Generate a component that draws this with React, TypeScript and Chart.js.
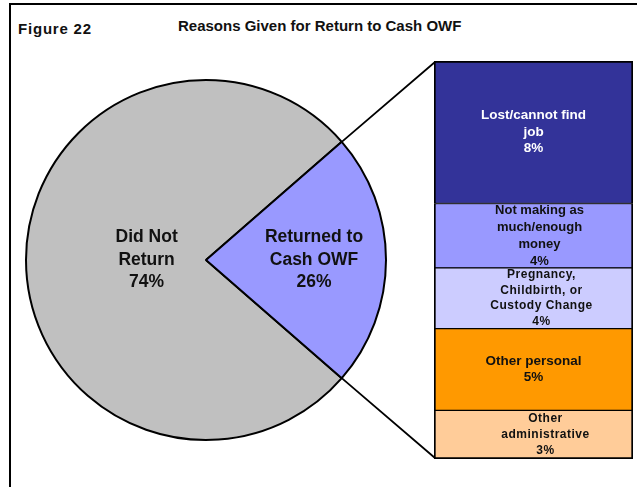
import React, { useEffect, useRef } from "react";
import { Chart, registerables } from "chart.js";

Chart.register(...registerables);

// ---- Data ----
const pieCategories = ["Did Not Return", "Returned to Cash OWF"];
const pieValues = [77.2, 22.8];
const pieLabelLines = [
  ["Did Not", "Return", "74%"],
  ["Returned to", "Cash OWF", "26%"],
];

const barCategories = [
  "Lost/cannot find job",
  "Not making as much/enough money",
  "Pregnancy, Childbirth, or Custody Change",
  "Other personal",
  "Other administrative",
];
const barValues = [8.2, 3.7, 3.5, 4.7, 2.8];
const barLabelLines = [
  ["Lost/cannot find", "job", "8%"],
  ["Not making as", "much/enough", "money", "4%"],
  ["Pregnancy,", "Childbirth, or", "Custody Change", "4%"],
  ["Other personal", "5%"],
  ["Other", "administrative", "3%"],
];

// ---- Styles ----
const FONT = "'Liberation Sans', Arial, Helvetica, sans-serif";
const pieColors = ["#C0C0C0", "#9999FF"];
const pieLabelRadius = [0.33, 0.6];
const barColors = ["#333399", "#9999FF", "#CCCCFF", "#FF9900", "#FFCC99"];
const barTextColors = ["#FFFFFF", "#111111", "#111111", "#111111", "#111111"];
const barFontSize = [13.5, 13, 12, 13.5, 12];
const barLineHeight = [16.5, 17, 15.5, 16, 16];
const barLetterSpacing = [0, 0, 0.5, 0, 0.5];
const barLabelShiftX = [0, 6, 8, 0, 12];

const PIE_LEFT = 16;
const PIE_TOP = 70;
const PIE_SIZE = 380;
const BAR_LEFT = 434;
const BAR_TOP = 61;
const BAR_W = 199;
const BAR_H = 398;

export default function App() {
  const pieRef = useRef<HTMLCanvasElement>(null);
  const barRef = useRef<HTMLCanvasElement>(null);
  const overlayRef = useRef<HTMLCanvasElement>(null);

  useEffect(() => {
    const total = pieValues.reduce((a, b) => a + b, 0);
    const returnedFrac = pieValues[1] / total;

    const pieLabelPlugin = {
      id: "pieLabels",
      afterDatasetsDraw(chart: any) {
        const ctx = chart.ctx;
        const meta = chart.getDatasetMeta(0);
        meta.data.forEach((arc: any, i: number) => {
          const p = arc.getProps(["x", "y", "startAngle", "endAngle", "outerRadius"], true);
          const mid = (p.startAngle + p.endAngle) / 2;
          const r = p.outerRadius * pieLabelRadius[i];
          const cx = p.x + Math.cos(mid) * r;
          const cy = p.y + Math.sin(mid) * r;
          const lines = pieLabelLines[i];
          const lh = 22.5;
          ctx.save();
          ctx.font = `bold 17.5px ${FONT}`;
          ctx.fillStyle = "#111111";
          ctx.textAlign = "center";
          ctx.textBaseline = "middle";
          lines.forEach((ln, k) => {
            ctx.fillText(ln, cx, cy + (k - (lines.length - 1) / 2) * lh);
          });
          ctx.restore();
        });
      },
    };

    const pie = new Chart(pieRef.current as HTMLCanvasElement, {
      type: "pie",
      data: {
        labels: pieCategories,
        datasets: [
          {
            data: pieValues,
            backgroundColor: pieColors,
            borderColor: "#000000",
            borderWidth: 2,
            hoverOffset: 0,
          },
        ],
      },
      options: {
        responsive: false,
        animation: false,
        radius: 180,
        rotation: 90 + 180 * returnedFrac,
        layout: { padding: 0 },
        plugins: { legend: { display: false }, tooltip: { enabled: false } },
      } as any,
      plugins: [pieLabelPlugin],
    });

    const n = barCategories.length;
    const barLabelPlugin = {
      id: "barLabels",
      afterDatasetsDraw(chart: any) {
        const ctx = chart.ctx;
        for (let i = 0; i < n; i++) {
          const dsIndex = n - 1 - i;
          const el: any = chart.getDatasetMeta(dsIndex).data[0];
          const p = el.getProps(["x", "y", "base"], true);
          const cy = (p.y + p.base) / 2;
          const lines = barLabelLines[i];
          const lh = barLineHeight[i];
          ctx.save();
          ctx.font = `bold ${barFontSize[i]}px ${FONT}`;
          try {
            (ctx as any).letterSpacing = `${barLetterSpacing[i]}px`;
          } catch (e) {}
          ctx.fillStyle = barTextColors[i];
          ctx.textAlign = "center";
          ctx.textBaseline = "middle";
          lines.forEach((ln, k) => {
            ctx.fillText(ln, p.x + barLabelShiftX[i], cy + (k - (lines.length - 1) / 2) * lh);
          });
          ctx.restore();
        }
      },
    };

    const datasets = barCategories
      .map((cat, i) => ({
        label: cat,
        data: [barValues[i]],
        backgroundColor: barColors[i],
        borderColor: "#000000",
        borderWidth: {
          left: 2,
          right: 2,
          top: i === 0 ? 2 : 1,
          bottom: i === n - 1 ? 2 : 1,
        },
        borderSkipped: false,
        barPercentage: 1,
        categoryPercentage: 1,
      }))
      .reverse();

    const barTotal = barValues.reduce((a, b) => a + b, 0);
    const bar = new Chart(barRef.current as HTMLCanvasElement, {
      type: "bar",
      data: { labels: ["Returned to Cash OWF"], datasets: datasets as any },
      options: {
        responsive: false,
        animation: false,
        layout: { padding: 0 },
        scales: {
          x: { display: false, stacked: true },
          y: { display: false, stacked: true, min: 0, max: barTotal },
        },
        plugins: { legend: { display: false }, tooltip: { enabled: false } },
      } as any,
      plugins: [barLabelPlugin],
    });

    // connector lines
    const oc = overlayRef.current as HTMLCanvasElement;
    const octx = oc.getContext("2d") as CanvasRenderingContext2D;
    octx.clearRect(0, 0, oc.width, oc.height);
    const arc: any = pie.getDatasetMeta(0).data[1];
    const ap = arc.getProps(["x", "y", "startAngle", "endAngle", "outerRadius"], true);
    const sx = PIE_LEFT + ap.x + Math.cos(ap.startAngle) * ap.outerRadius;
    const sy = PIE_TOP + ap.y + Math.sin(ap.startAngle) * ap.outerRadius;
    const ex = PIE_LEFT + ap.x + Math.cos(ap.endAngle) * ap.outerRadius;
    const ey = PIE_TOP + ap.y + Math.sin(ap.endAngle) * ap.outerRadius;
    const topEl: any = bar.getDatasetMeta(n - 1).data[0];
    const botEl: any = bar.getDatasetMeta(0).data[0];
    const tp = topEl.getProps(["x", "y", "base", "width"], true);
    const bp = botEl.getProps(["x", "y", "base", "width"], true);
    const tx = BAR_LEFT + tp.x - tp.width / 2;
    const ty = BAR_TOP + tp.y;
    const bx = BAR_LEFT + bp.x - bp.width / 2;
    const by = BAR_TOP + bp.base;
    octx.strokeStyle = "#000000";
    octx.lineWidth = 1.8;
    octx.beginPath();
    octx.moveTo(sx, sy);
    octx.lineTo(tx + 1, ty + 1);
    octx.moveTo(ex, ey);
    octx.lineTo(bx + 1, by - 1);
    octx.stroke();

    return () => {
      pie.destroy();
      bar.destroy();
    };
  }, []);

  return (
    <div
      style={{
        position: "fixed",
        left: 0,
        top: 0,
        width: 637,
        height: 487,
        overflow: "hidden",
        background: "#FFFFFF",
      }}
    >
      <div
        style={{
          position: "absolute",
          left: 9,
          top: 3,
          width: 640,
          height: 500,
          borderLeft: "2px solid #000",
          borderTop: "2px solid #000",
          boxSizing: "border-box",
        }}
      />
      <div
        style={{
          position: "absolute",
          left: 18,
          top: 21,
          font: `bold 15px ${FONT}`,
          lineHeight: "15px",
          letterSpacing: "0.8px",
          color: "#111",
          whiteSpace: "nowrap",
        }}
      >
        Figure 22
      </div>
      <div
        style={{
          position: "absolute",
          left: 178,
          top: 18,
          font: `bold 15px ${FONT}`,
          lineHeight: "15px",
          color: "#111",
          whiteSpace: "nowrap",
        }}
      >
        Reasons Given for Return to Cash OWF
      </div>
      <canvas
        ref={pieRef}
        width={PIE_SIZE}
        height={PIE_SIZE}
        style={{ position: "absolute", left: PIE_LEFT, top: PIE_TOP, width: PIE_SIZE, height: PIE_SIZE }}
      />
      <canvas
        ref={barRef}
        width={BAR_W}
        height={BAR_H}
        style={{ position: "absolute", left: BAR_LEFT, top: BAR_TOP, width: BAR_W, height: BAR_H }}
      />
      <canvas
        ref={overlayRef}
        width={637}
        height={487}
        style={{ position: "absolute", left: 0, top: 0, width: 637, height: 487, pointerEvents: "none" }}
      />
    </div>
  );
}
